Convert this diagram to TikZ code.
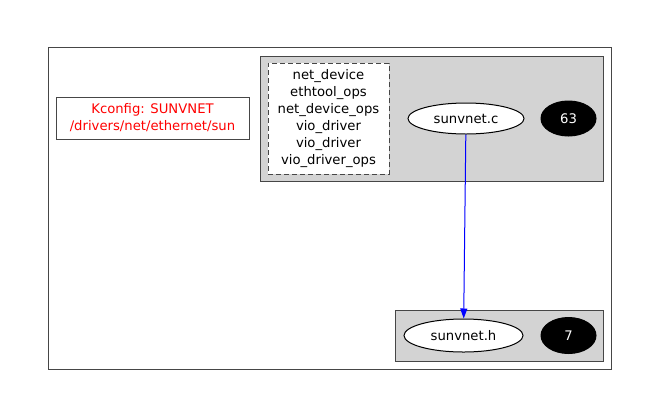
\documentclass[tikz,border=0pt]{standalone}
\usepackage{fontspec}
\setmainfont{DejaVu Sans}
\usetikzlibrary{arrows.meta, shapes.geometric}
\definecolor{clustergray}{RGB}{211,211,211}
\definecolor{edgegray}{RGB}{70,70,70}
\begin{document}
\begin{tikzpicture}[x=1pt, y=-1pt, line width=1pt, font=\fontsize{13.2}{17}\selectfont]
				\useasboundingbox (0,0) rectangle (660,418);

				% Outer frame
				\node[draw=edgegray, rectangle, minimum width=563pt, minimum height=322pt, inner sep=0pt] (outer) at (329.5,208) {};

				% Kconfig label
				\node[draw=edgegray, rectangle, minimum width=193pt, minimum height=42pt, inner sep=0pt, text=red, align=center] (kconfig) at (152.5,118) {Kconfig: SUNVNET\\ /drivers/net/ethernet/sun};

				% Cluster of sunvnet.c
				\node[draw=edgegray, rectangle, minimum width=343pt, minimum height=125pt, inner sep=0pt, fill=clustergray] (clusterc) at (431.5,118.5) {};

				% Structures used
				\node[draw=edgegray, dash pattern=on 5pt off 3pt, rectangle, minimum width=121pt, minimum height=111pt, inner sep=0pt, fill=white, align=center] (structs) at (328.5,118.5) {net\_device\\ ethtool\_ops\\ net\_device\_ops\\ vio\_driver\\ vio\_driver\\ vio\_driver\_ops};

				% Source file and its count
				\node[draw=black, ellipse, minimum width=116pt, minimum height=31pt, inner sep=0pt, fill=white] (filec) at (466,118.5) {sunvnet.c};
				\node[draw=black, ellipse, minimum width=55pt, minimum height=35pt, inner sep=0pt, fill=black, text=white] (countc) at (568.5,118.5) {63};

				% Cluster of sunvnet.h
				\node[draw=edgegray, rectangle, minimum width=208pt, minimum height=51pt, inner sep=0pt, fill=clustergray] (clusterh) at (499,335.5) {};

				% Header file and its count
				\node[draw=black, ellipse, minimum width=119pt, minimum height=33pt, inner sep=0pt, fill=white] (fileh) at (463.5,335.5) {sunvnet.h};
				\node[draw=black, ellipse, minimum width=55pt, minimum height=36pt, inner sep=0pt, fill=black, text=white] (counth) at (568.5,335.5) {7};

				% Include edge
				\draw[-{Triangle[length=10pt, width=7pt]}, blue] (filec) -- (fileh);
			\end{tikzpicture}
\end{document}
